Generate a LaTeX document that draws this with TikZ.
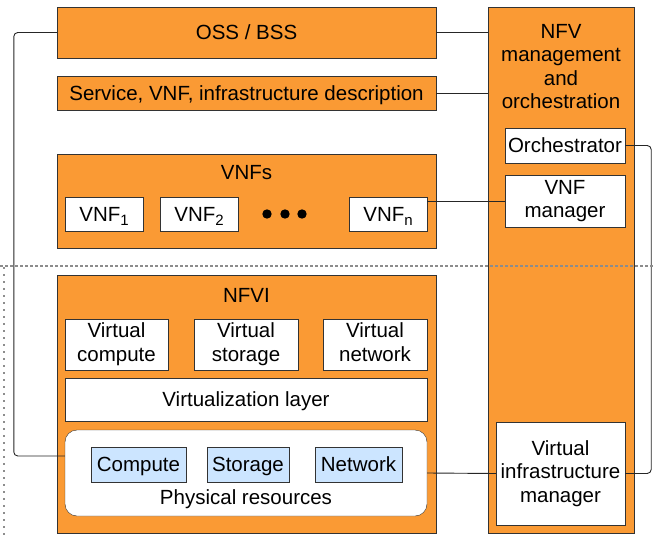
\documentclass[tikz,border=0pt]{standalone}
\usepackage{fontspec}
\setmainfont{Liberation Sans}
\usetikzlibrary{positioning}
\definecolor{nfvorange}{RGB}{250,154,52}
\definecolor{resblue}{RGB}{204,229,255}
\newcommand{\vsub}[1]{\raisebox{-4.5pt}{\fontsize{15}{15}\selectfont #1}}
\newcommand{\tstrut}{\rule[-4.4pt]{0pt}{23.5pt}}

\begin{document}
\begin{tikzpicture}[x=1pt,y=-1pt,
font=\fontsize{20.5}{23.5}\selectfont,
block/.style ={draw=black!80, fill=nfvorange, inner sep=0pt},
inner/.style ={draw=black!80, fill=white, inner sep=0pt, align=center,
  execute at begin node=\tstrut, execute at end node=\tstrut},
res/.style ={draw=black!80, fill=resblue, inner sep=0pt,
  execute at begin node=\tstrut},
title/.style ={align=center, inner sep=0pt,
  execute at begin node=\tstrut, execute at end node=\tstrut},
link/.style ={draw=black!85, line width=0.9pt, rounded corners=4pt}]
\useasboundingbox (0,0) rectangle (654,541);
% left column
\node[block, minimum width=379pt, minimum height=51pt] (oss) at (246.5,32.5) {\tstrut OSS / BSS};
\node[block, minimum width=379pt, minimum height=34pt] (desc) at (246.5,93) {\tstrut Service, VNF, infrastructure description};
\node[block, minimum width=379pt, minimum height=94pt] (vnfs) at (246.5,201) {};
\node[title] (vnfstitle) at (246.5,172) {VNFs};
\node[inner, minimum width=78pt, minimum height=34pt] (vnf1) at (104,214) {VNF\vsub{1}};
\node[inner, minimum width=78pt, minimum height=34pt] (vnf2) at (199,214) {VNF\vsub{2}};
\node[inner, minimum width=78pt, minimum height=34pt] (vnfn) at (388,214) {VNF\vsub{n}};
\foreach \x in {267,285,302} \fill (\x,214) circle (4.7);
\node[block, minimum width=379pt, minimum height=258pt] (nfvi) at (246.5,404) {};
\node[title] (nfvititle) at (246.5,295) {NFVI};
\node[inner, minimum width=103pt, minimum height=51pt] (vcomp) at (116.5,344.5) {Virtual\\compute};
\node[inner, minimum width=104pt, minimum height=51pt] (vstor) at (246,344.5) {Virtual\\storage};
\node[inner, minimum width=104pt, minimum height=51pt] (vnet) at (375,344.5) {Virtual\\network};
\node[inner, minimum width=362pt, minimum height=43pt] (vlayer) at (246,399.5) {Virtualization layer};
\node[inner, rounded corners=12pt, minimum width=362pt, minimum height=86pt] (phys) at (246,473) {};
\node[res, minimum width=95pt, minimum height=35pt] (comp) at (138.5,464.5) {Compute};
\node[res, minimum width=82pt, minimum height=35pt] (stor) at (248,464.5) {Storage};
\node[res, minimum width=87pt, minimum height=35pt] (netw) at (358.5,464.5) {Network};
\node[title] (physlabel) at (246,497.5) {Physical resources};
% right column
\node[block, minimum width=146pt, minimum height=526pt] (mano) at (561,270) {};
\node[title] (manotitle) at (561,68.5) {NFV\\management\\and\\orchestration};
\node[inner, minimum width=120pt, minimum height=35pt] (orch) at (565,145.5) {Orchestrator};
\node[inner, minimum width=120pt, minimum height=52pt] (vnfm) at (565,201) {VNF\\manager};
\node[inner, minimum width=129pt, minimum height=103pt] (vim) at (560.5,473.5) {Virtual\\infrastructure\\manager};
% connectors
\coordinate (physin) at ([yshift=17pt]phys.west);
\draw[link] (oss.east) -- (oss.east -| mano.west);
\draw[link] (desc.east) -- (desc.east -| mano.west);
\draw[link] (vnfm.west -| vnfn.east) -- (vnfm.west);
\draw[link] (phys.east) -- (vim.west);
\draw[link] (orch.east) -- ([xshift=26pt]orch.east) |- (vim.east);
\draw[link] (oss.west) -- ([xshift=-43pt]oss.west) |- (physin);
% separators
\draw[black!45, line width=1.2pt, dash pattern=on 2.5pt off 2.5pt] (0,266) -- (654,266);
\draw[black!90, line width=1.8pt, line cap=round, dash pattern=on 0pt off 7pt] (4,268) -- (4,541);
\end{tikzpicture}
\end{document}
